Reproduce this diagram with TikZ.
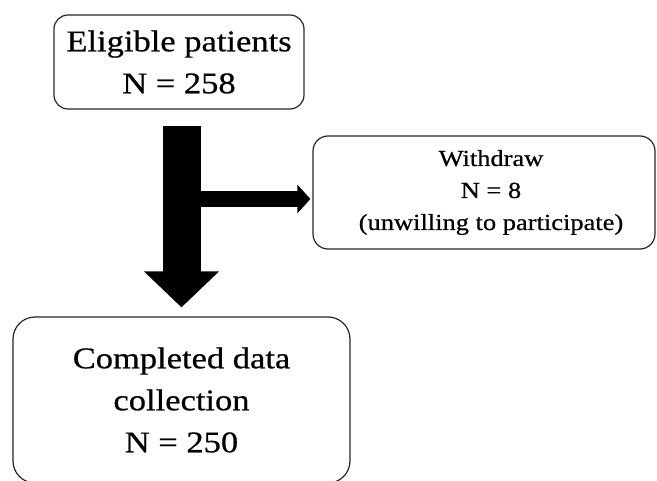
\documentclass[tikz,border=0pt]{standalone}
\usepackage{fontspec}
\setmainfont{Liberation Serif}[FakeStretch=1.15,FakeBold=0.6]
\usetikzlibrary{arrows.meta,calc}
\begin{document}
\begin{tikzpicture}[x=1pt,y=-1pt,
  box/.style={draw=black!85, line width=1.2pt, align=center, inner sep=0pt},
  big/.style={font=\fontsize{30}{42}\selectfont},
  small/.style={font=\fontsize{23}{32}\selectfont},
  flow/.style={line width=38pt, -{Triangle[length=36pt,width=73pt]}},
  side/.style={line width=16pt, -{Triangle[length=13pt,width=28pt]}}]
\useasboundingbox (0,0) rectangle (657,481);
\node[box,big,rounded corners=14pt,minimum width=250pt,minimum height=94pt] (elig) at (179,62) {Eligible patients\\N = 258};
\node[box,small,rounded corners=15pt,minimum width=342pt,minimum height=113pt] (wd) at (484,192.5) {\hspace*{14pt}Withdraw\\\hspace*{14pt}N = 8\\\hspace*{14pt}(unwilling to participate)};
\node[box,big,rounded corners=22pt,minimum width=337pt,minimum height=166pt] (done) at (181.5,400) {Completed data\\collection\\N = 250};
\coordinate (br) at ($(done.north |- wd.west)+(0,6.5)$);
\draw[side] (br) -- ($(wd.west |- br)+(-2,0)$);
\draw[flow] ($(done.north |- elig.south)+(0,16)$) -- ($(done.north)+(0,-9)$);
\end{tikzpicture}
\end{document}
